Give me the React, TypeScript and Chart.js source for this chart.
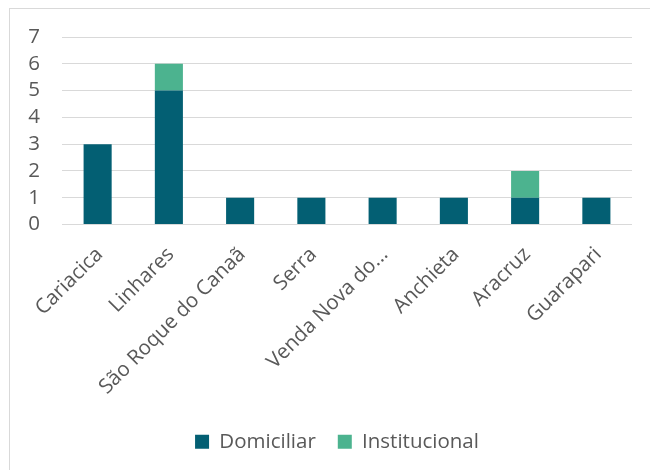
import React, { useEffect, useRef } from "react";
import { Chart, registerables } from "chart.js";

Chart.register(...registerables);

const categories = [
  "Cariacica",
  "Linhares",
  "São Roque do Canaã",
  "Serra",
  "Venda Nova do...",
  "Anchieta",
  "Aracruz",
  "Guarapari",
];
const domiciliar = [3, 5, 1, 1, 1, 1, 1, 1];
const institucional = [0, 1, 0, 0, 0, 0, 1, 0];
const yTicks = [0, 1, 2, 3, 4, 5, 6, 7];

const FONT = "'Open Sans', 'Noto Sans', sans-serif";
const TEXT = "#595959";
const GRID = "#d9d9d9";
const FS = 20.5;

const legendShift = {
  id: "legendShift",
  afterLayout(chart: any) {
    const lg = chart.legend;
    if (!lg) return;
    lg.left += 16;
    lg.right += 16;
    lg.top += 1;
    lg.bottom += 1;
  },
};

export default function App() {
  const ref = useRef<HTMLCanvasElement | null>(null);

  useEffect(() => {
    if (!ref.current) return;
    const chart = new Chart(ref.current, {
      type: "bar",
      data: {
        labels: categories,
        datasets: [
          {
            label: "Domiciliar",
            data: domiciliar,
            backgroundColor: "#035f73",
            barPercentage: 0.394,
            categoryPercentage: 1,
          },
          {
            label: "Institucional",
            data: institucional,
            backgroundColor: "#4cb38f",
            barPercentage: 0.394,
            categoryPercentage: 1,
          },
        ],
      },
      plugins: [legendShift],
      options: {
        animation: false,
        responsive: false,
        maintainAspectRatio: false,
        devicePixelRatio: 1,
        layout: { padding: { top: 28, right: 36, bottom: 9, left: 0 } },
        plugins: {
          tooltip: { enabled: false },
          legend: {
            position: "bottom",
            labels: {
              boxWidth: 14,
              boxHeight: 14,
              padding: 22,
              color: TEXT,
              font: { family: FONT, size: FS },
            },
          },
        },
        scales: {
          x: {
            stacked: true,
            grid: { display: false, drawTicks: false },
            border: { display: false },
            ticks: {
              color: TEXT,
              font: { family: FONT, size: FS },
              maxRotation: 45,
              minRotation: 45,
              autoSkip: false,
              padding: 18,
              labelOffset: 2,
            },
            afterFit: (s: any) => {
              s.height = 184;
            },
          },
          y: {
            stacked: true,
            min: 0,
            max: 7,
            afterBuildTicks: (s: any) => {
              s.ticks = yTicks.map((v) => ({ value: v }));
            },
            grid: { color: GRID, lineWidth: 1, drawTicks: false },
            border: { display: false },
            ticks: {
              color: TEXT,
              font: { family: FONT, size: FS },
              padding: 22,
              autoSkip: false,
            },
            afterFit: (s: any) => {
              s.width = 52;
              s.paddingTop = 12;
              s.paddingBottom = 12;
            },
          },
        },
      },
    });
    return () => chart.destroy();
  }, []);

  return (
    <div
      style={{
        position: "fixed",
        left: 0,
        top: 0,
        width: 650,
        height: 470,
        overflow: "hidden",
        background: "#fff",
      }}
    >
      <div
        style={{
          position: "absolute",
          left: 9,
          top: 8,
          width: 700,
          height: 520,
          border: "1px solid #d9d9d9",
          boxSizing: "border-box",
        }}
      >
        <canvas
          ref={ref}
          width={658}
          height={461}
          style={{ display: "block", width: 658, height: 461 }}
        />
      </div>
    </div>
  );
}
